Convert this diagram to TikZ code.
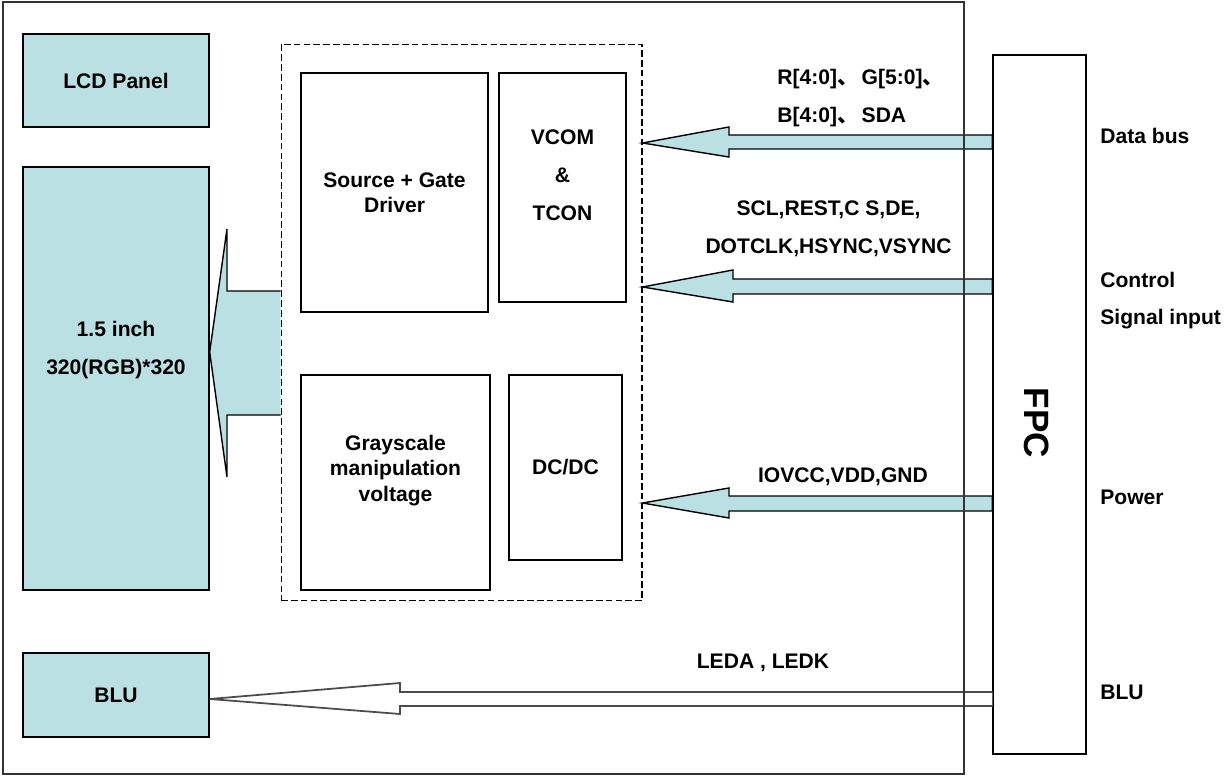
\documentclass[tikz,border=0pt]{standalone}
\usepackage{fontspec}
\setmainfont{Liberation Sans}
\newfontfamily\cjk{Noto Sans CJK SC}
\usetikzlibrary{calc}
\definecolor{panelblue}{RGB}{187,224,227}
\tikzset{%
  font=\fontsize{12}{14.5}\selectfont\bfseries,
  box/.style={draw,rectangle,line width=0.8pt,align=center,inner sep=0pt},
  fbox/.style={box,fill=panelblue},
  grp/.style={draw,rectangle,dash pattern=on 3.8pt off 1.8pt,line width=0.6pt,inner sep=0pt},
  barrow/.style={draw,line width=0.8pt,fill=panelblue,line join=miter},
  warrow/.style={draw=black!70,line width=1pt,fill=white,line join=miter},
  sig/.style={align=center,inner sep=0pt},
  port/.style={anchor=west,align=left,inner sep=0pt}
}
\begin{document}
\begin{tikzpicture}[x=0.02cm,y=-0.02cm]
	\useasboundingbox (0,0) rectangle (1229,776);
	% panel side
	\node[fbox,minimum width=3.72cm,minimum height=1.86cm] (lcd) at (116,80.5) {LCD Panel};
	\node[fbox,minimum width=3.72cm,minimum height=8.46cm] (panel) at (116,378.5) {};
	\node[sig] (paneltxt) at (116,350) {1.5 inch\\[7pt]320(RGB)*320};
	\node[fbox,minimum width=3.72cm,minimum height=1.68cm] (blu) at (116,695) {BLU};
	% driver IC
	\node[grp,minimum width=7.22cm,minimum height=11.14cm] (drvgrp) at (461.5,322.5) {};
	\node[box,minimum width=3.74cm,minimum height=4.78cm] (drv) at (394.5,192.5) {Source + Gate\\Driver};
	\node[box,minimum width=2.54cm,minimum height=4.58cm] (vcom) at (562.5,187.5) {};
	\node[sig] (vcomtxt) at (562.5,175.5) {VCOM\\[7pt]\&\\[7pt]TCON};
	\node[box,minimum width=3.78cm,minimum height=4.3cm] (gray) at (395.5,482.5) {};
	\node[sig] (graytxt) at (395.5,470.5) {Grayscale\\manipulation\\voltage};
	\node[box,minimum width=2.26cm,minimum height=3.7cm] (dcdc) at (565.5,467.5) {DC/DC};
	% FPC
	\node[box,minimum width=1.86cm,minimum height=13.98cm] (fpc) at (1039.5,404.5) {};
	\node[rotate=-90,inner sep=0pt,font=\fontsize{20}{24}\selectfont\bfseries] (fpctxt) at (1037,423) {FPC};
	% arrows
	\coordinate (ptip) at (panel.east |- 0,352);
	\draw[barrow] (drvgrp.west |- 0,291) -- (227,291) -- (227,229) -- (ptip)
		-- (227,477) -- (227,415) -- (drvgrp.west |- 0,415);
	\coordinate (dtip) at (drvgrp.east |- 0,143);
	\draw[barrow] (fpc.west |- 0,135) -- (729,135) -- (729,127) -- (dtip)
		-- (729,157) -- (729,149) -- (fpc.west |- 0,149) -- cycle;
	\coordinate (ctip) at (drvgrp.east |- 0,287);
	\draw[barrow] (fpc.west |- 0,279) -- (733,279) -- (733,270) -- (ctip)
		-- (733,302) -- (733,294) -- (fpc.west |- 0,294) -- cycle;
	\coordinate (wtip) at (drvgrp.east |- 0,503);
	\draw[barrow] (fpc.west |- 0,496) -- (729,496) -- (729,488) -- (wtip)
		-- (729,518) -- (729,511) -- (fpc.west |- 0,511) -- cycle;
	\coordinate (btip) at (blu.east |- 0,699);
	\draw[warrow] (fpc.west |- 0,692) -- (400,692) -- (400,683) -- (btip)
		-- (400,714) -- (400,706) -- (fpc.west |- 0,706);
	% module outline
	\node[draw=black!80,line width=0.8pt,minimum width=19.22cm,minimum height=15.44cm,inner sep=0pt] (frame) at (483.5,388) {};
	% signal labels
	\node[sig,anchor=west,align=left] (datalbl) at (777,98) {R[4:0]{\cjk 、}\,G[5:0]{\cjk 、}\\[7pt]B[4:0]{\cjk 、}\,SDA};
	\node[sig] (ctrllbl) at (828.5,228.5) {SCL,REST,C S,DE,\\[7pt]DOTCLK,HSYNC,VSYNC};
	\node[sig] (pwrlbl) at (843,477) {IOVCC,VDD,GND};
	\node[sig] (ledlbl) at (763,663) {LEDA , LEDK};
	% FPC ports
	\node[port] (pdata) at (1100,136) {Data bus};
	\node[port] (pctrl) at (1100,300.5) {Control\\[7pt]Signal input};
	\node[port] (ppwr) at (1100,497) {Power};
	\node[port] (pblu) at (1100,692) {BLU};
\end{tikzpicture}
\end{document}
